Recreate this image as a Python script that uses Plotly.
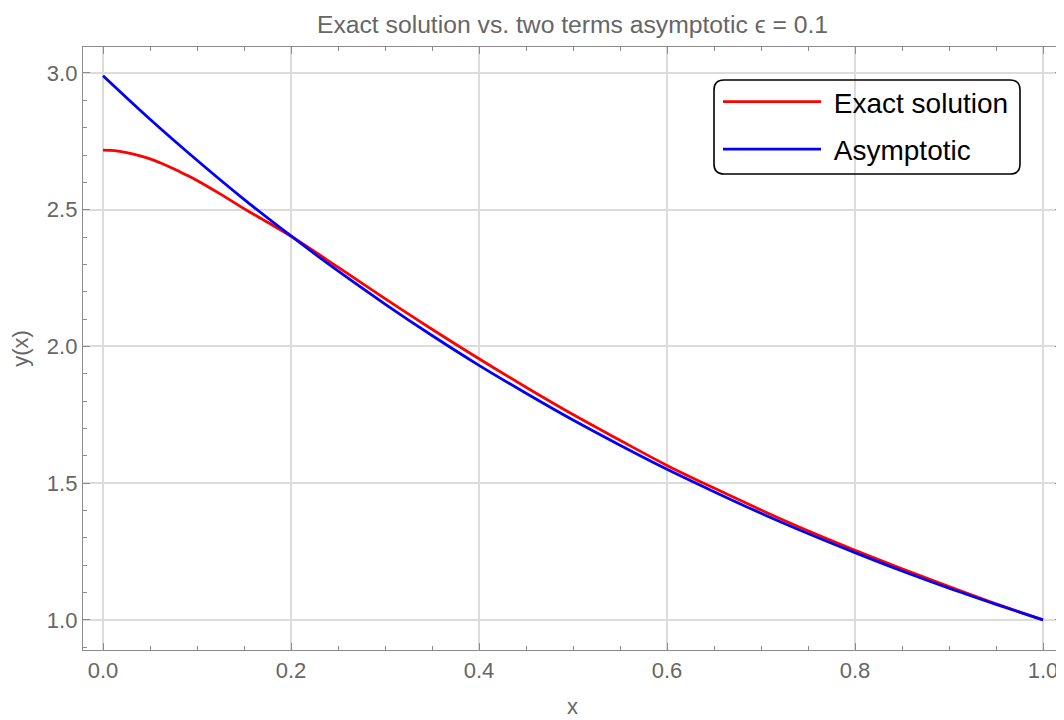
import plotly.graph_objects as go

# ---- data ----
x_exact = [0.0, 0.0125, 0.025, 0.0375, 0.05, 0.0625, 0.075, 0.0875, 0.1, 0.125, 0.15, 0.175,
           0.2, 0.25, 0.3, 0.35, 0.4, 0.45, 0.5, 0.55, 0.6, 0.65, 0.7, 0.75, 0.8, 0.85,
           0.9, 0.95, 1.0]
y_exact = [2.718, 2.716, 2.709, 2.699, 2.686, 2.669, 2.650, 2.629, 2.607, 2.557, 2.504,
           2.454, 2.403, 2.290, 2.175, 2.063, 1.955, 1.851, 1.751, 1.657, 1.565, 1.482,
           1.402, 1.326, 1.255, 1.187, 1.122, 1.059, 1.0]

x_asym = [0.0, 0.05, 0.1, 0.15, 0.2, 0.25, 0.3, 0.35, 0.4, 0.45, 0.5, 0.55, 0.6, 0.65,
          0.7, 0.75, 0.8, 0.85, 0.9, 0.95, 1.0]
y_asym = [2.990, 2.831, 2.681, 2.538, 2.404, 2.276, 2.155, 2.040, 1.931, 1.829, 1.731,
          1.639, 1.551, 1.469, 1.390, 1.316, 1.246, 1.179, 1.116, 1.057, 1.0]

series_names = ["Exact solution", "Asymptotic"]
series_colors = ["#ff0000", "#0000ff"]

x_ticks = [0.0, 0.2, 0.4, 0.6, 0.8, 1.0]
y_ticks = [1.0, 1.5, 2.0, 2.5, 3.0]
title_text = "Exact solution vs. two terms asymptotic \u03f5 = 0.1"

FONT = "Liberation Sans, Arial, sans-serif"
GRAY_TXT = "#666666"
FRAME = "#8c8c8c"
GRID = "#dcdcdc"

fig = go.Figure()
for i, (xs, ys) in enumerate([(x_exact, y_exact), (x_asym, y_asym)]):
    fig.add_trace(go.Scatter(
        x=xs, y=ys, mode="lines", name="\u00a0" + series_names[i],
        line=dict(color=series_colors[i], width=2.8, shape="spline", smoothing=1.0),
        legendgroup=f"g{i}",
    ))

# the page body adds an 8px offset; size the figure so the plot lands where the reference has it
OFF = 8
W, H = 1064 - OFF, 720 - OFF
L, R, T, B = 83 - OFF, 2, 47 - OFF, 70

axis_common = dict(
    showline=True, linecolor=FRAME, linewidth=1.3, mirror="ticks",
    ticks="inside", ticklen=7, tickwidth=1.2, tickcolor=FRAME,
    showgrid=True, gridcolor=GRID, gridwidth=1.6, zeroline=False,
    tickfont=dict(family=FONT, size=22, color=GRAY_TXT),
    tickformat=".1f", automargin=False,
)

fig.update_xaxes(
    **axis_common,
    range=[-0.0213, 1.0202], tickvals=x_ticks,
    minor=dict(dtick=0.05, ticks="inside", ticklen=4, tickcolor=FRAME, tickwidth=1, showgrid=False),
    title=dict(text="x", font=dict(family=FONT, size=22, color=GRAY_TXT), standoff=17),
)
fig.update_yaxes(
    **axis_common,
    range=[0.89, 3.095], tickvals=y_ticks,
    minor=dict(dtick=0.1, ticks="inside", ticklen=4, tickcolor=FRAME, tickwidth=1, showgrid=False),
    title=dict(text="y(x)", font=dict(family=FONT, size=22, color=GRAY_TXT), standoff=21),
)

# legend box (rounded border, transparent fill), reference window pixels
pw, ph = W - L - R, H - T - B
bx0, bx1, by0, by1 = 714, 1020, 80, 174
rad = 10
def px2paper(px, py):
    return (px - OFF - L) / pw, (H - B - (py - OFF)) / ph
def P(px, py):
    a, b = px2paper(px, py)
    return f"{a:.5f},{b:.5f}"
path = (f"M {P(bx0+rad, by0)} L {P(bx1-rad, by0)} Q {P(bx1, by0)} {P(bx1, by0+rad)} "
        f"L {P(bx1, by1-rad)} Q {P(bx1, by1)} {P(bx1-rad, by1)} "
        f"L {P(bx0+rad, by1)} Q {P(bx0, by1)} {P(bx0, by1-rad)} "
        f"L {P(bx0, by0+rad)} Q {P(bx0, by0)} {P(bx0+rad, by0)} Z")
fig.add_shape(type="path", path=path, xref="paper", yref="paper",
              line=dict(color="black", width=1.6), fillcolor="rgba(0,0,0,0)", layer="above")

lx, ly = px2paper(bx0 + 4, by0 - 3)
fig.update_layout(
    width=W, height=H,
    margin=dict(l=L, r=R, t=T, b=B),
    paper_bgcolor="white", plot_bgcolor="white",
    title=dict(text=title_text, x=(572.5 - OFF) / W, xanchor="center", y=1 - (24 - OFF) / H,
               yanchor="middle",
               font=dict(family=FONT, size=24.7, color=GRAY_TXT), automargin=False),
    legend=dict(x=lx, y=ly, xanchor="left", yanchor="top",
                bgcolor="rgba(0,0,0,0)", borderwidth=0,
                font=dict(family=FONT, size=28, color="black"),
                itemwidth=98, tracegroupgap=8, traceorder="grouped"),
    showlegend=True,
)

fig.write_html("out.html")
